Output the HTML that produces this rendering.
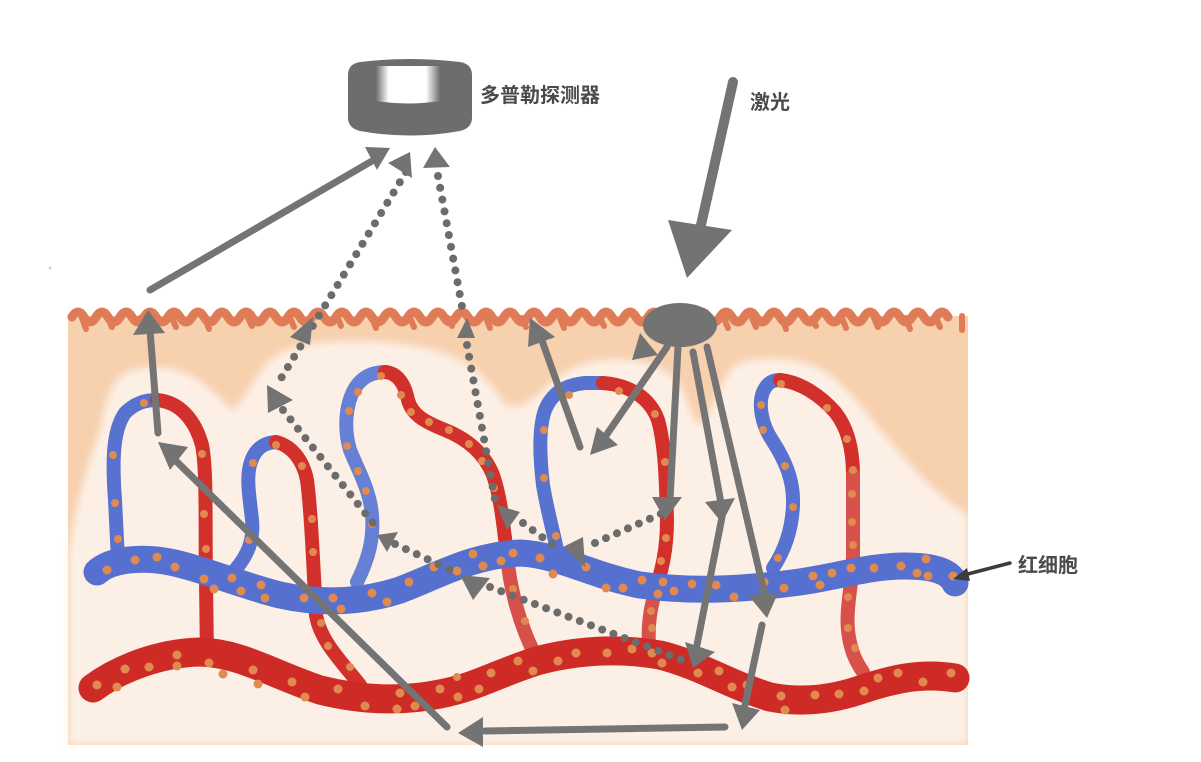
<!DOCTYPE html>
<html><head><meta charset="utf-8"><style>
html,body{margin:0;padding:0;background:#fff;}
svg{display:block;}
text{font-family:"Liberation Sans","Noto Sans CJK SC",sans-serif;fill:#4a4a4a;font-size:20px;font-weight:bold;}
</style></head><body>
<svg width="1201" height="762" viewBox="0 0 1201 762" xmlns="http://www.w3.org/2000/svg">
<defs>
<filter id="blur4" x="-5%" y="-5%" width="110%" height="110%"><feGaussianBlur stdDeviation="4"/></filter>
<linearGradient id="win" x1="0" y1="0" x2="1" y2="0">
<stop offset="0" stop-color="#6e6e6e"/><stop offset="0.2" stop-color="#ffffff"/><stop offset="0.78" stop-color="#ffffff"/><stop offset="1" stop-color="#6e6e6e"/>
</linearGradient>
</defs>

<!-- skin -->
<rect x="68" y="316" width="900" height="429" fill="#f7d0ae"/>
<path filter="url(#blur4)" fill="#fcf0e6" d="M68,745 L68,560 C72,520 85,470 100,430 C105,400 112,380 127,372 C140,365 170,365 190,375 C210,385 225,405 233,410 C240,405 250,385 267,363 C280,350 300,345 330,342 C370,340 410,342 440,352 C470,360 495,385 503,403 C515,410 525,405 540,392 C555,378 575,362 605,360 C640,358 665,365 680,385 C690,405 695,425 700,425 C710,420 720,380 735,365 C750,357 790,355 817,367 C840,378 860,405 883,433 C905,460 935,495 968,515 L968,745 Z"/>
<rect x="60" y="745" width="920" height="17" fill="#fff"/>
<rect x="968" y="300" width="30" height="460" fill="#fff"/>

<!-- wavy top -->
<path fill="none" stroke="#df7b56" stroke-width="9" stroke-linecap="round" d="M72,317 q6,-10 12,0 t12,0 t12,0 t12,0 t12,0 t12,0 t12,0 t12,0 t12,0 t12,0 t12,0 t12,0 t12,0 t12,0 t12,0 t12,0 t12,0 t12,0 t12,0 t12,0 t12,0 t12,0 t12,0 t12,0 t12,0 t12,0 t12,0 t12,0 t12,0 t12,0 t12,0 t12,0 t12,0 t12,0 t12,0 t12,0 t12,0 t12,0 t12,0 t12,0 t12,0 t12,0 t12,0 t12,0 t12,0 t12,0 t12,0 t12,0 t12,0 t12,0 t12,0 t12,0 t12,0 t12,0 t12,0 t12,0 t12,0 t12,0 t12,0 t12,0 t12,0 t12,0 t12,0 t12,0 t12,0 t12,0 t12,0 t12,0 t12,0 t12,0 t12,0 t12,0 t12,0"/>
<g stroke="#df7b56" stroke-width="6" stroke-linecap="round">
<line x1="82" y1="318" x2="86" y2="329"/><line x1="108" y1="318" x2="112" y2="327"/><line x1="140" y1="318" x2="146" y2="326"/><line x1="172" y1="318" x2="176" y2="327"/><line x1="205" y1="318" x2="209" y2="329"/><line x1="248" y1="318" x2="252" y2="326"/><line x1="290" y1="318" x2="294" y2="327"/><line x1="338" y1="318" x2="341" y2="326"/><line x1="372" y1="318" x2="376" y2="328"/><line x1="410" y1="318" x2="414" y2="327"/><line x1="448" y1="318" x2="452" y2="326"/><line x1="486" y1="318" x2="490" y2="328"/><line x1="522" y1="318" x2="526" y2="327"/><line x1="560" y1="318" x2="564" y2="328"/><line x1="600" y1="318" x2="604" y2="326"/><line x1="724" y1="318" x2="728" y2="328"/><line x1="752" y1="318" x2="756" y2="327"/><line x1="782" y1="318" x2="786" y2="329"/><line x1="812" y1="318" x2="816" y2="326"/><line x1="842" y1="318" x2="846" y2="328"/><line x1="874" y1="318" x2="878" y2="327"/><line x1="906" y1="318" x2="910" y2="329"/><line x1="936" y1="318" x2="940" y2="327"/><line x1="962" y1="316" x2="962" y2="330"/>
</g>

<!-- capillaries blue -->
<g fill="none" stroke="#5872cf" stroke-width="14" stroke-linecap="round">
<path d="M118,560 L115,500 C112,460 113,430 125,413 C135,403 145,400 157,400"/>
<path d="M235,570 C248,555 254,540 252,520 C250,500 246,480 250,465 C254,450 262,443 276,442"/>
<path stroke="#6580d4" d="M357,582 C368,560 374,540 372,515 C370,490 358,470 350,450 C344,430 345,405 355,388 C362,377 372,372 385,372"/>
<path d="M557,550 C553,530 547,510 543,485 C540,460 538,430 545,410 C552,393 565,385 585,383 L603,383"/>
<path d="M773,568 C785,550 792,530 793,505 C794,480 785,460 772,440 C762,425 758,405 763,392 C767,383 772,380 780,380"/>
</g>
<!-- capillaries red -->
<g fill="none" stroke="#d2312b" stroke-width="14" stroke-linecap="round">
<path d="M157,400 C180,402 195,420 202,445 C207,470 205,520 206,580 L207,660"/>
<path d="M276,442 C292,446 303,460 307,480 C311,510 313,560 316,615 C320,640 340,660 360,685"/>
<path d="M385,372 C398,373 405,385 408,400 C412,415 425,422 445,430 C470,440 485,455 493,475 C500,495 503,520 507,555"/>
<path stroke="#d8504a" d="M507,555 C510,590 520,625 535,655"/>
<path d="M603,383 C630,385 650,398 658,420 C665,445 666,480 667,520 C667,555 660,575 653,600"/>
<path stroke="#d8504a" d="M653,600 C648,620 648,640 650,655"/>
<path d="M780,380 C800,382 820,395 835,412 C848,428 853,450 853,475"/>
<path stroke="#d8504a" d="M853,475 L853,560 C851,590 846,610 848,630 C850,650 856,662 863,672"/>
</g>

<!-- main vessels -->
<path fill="none" stroke="#5670cf" stroke-width="27" stroke-linecap="round" d="M97,572 C110,560 140,556 170,562 C200,568 240,585 280,595 C320,604 360,603 400,590 C440,575 470,556 520,553 C560,555 590,575 640,585 C690,592 740,590 800,582 C840,576 870,566 905,566 C935,566 950,572 955,583"/>
<path fill="none" stroke="#cf2b26" stroke-width="29" stroke-linecap="round" d="M93,688 C120,668 160,653 200,652 C240,653 270,673 320,690 C360,700 400,702 440,694 C480,686 500,672 540,660 C580,650 620,648 660,655 C700,665 730,685 770,697 C800,703 830,700 860,690 C890,680 920,672 955,678"/>

<!-- dots -->
<g fill="#e08a50">
<circle cx="107" cy="570" r="4.5"/><circle cx="135" cy="560" r="4.5"/><circle cx="157" cy="557" r="4.5"/><circle cx="175" cy="567" r="4.5"/><circle cx="204" cy="579" r="4.5"/><circle cx="214" cy="589" r="4.5"/><circle cx="232" cy="578" r="4.5"/><circle cx="241" cy="591" r="4.5"/><circle cx="261" cy="585" r="4.5"/><circle cx="265" cy="598" r="4.5"/><circle cx="304" cy="598" r="4.5"/><circle cx="333" cy="598" r="4.5"/><circle cx="341" cy="609" r="4.5"/><circle cx="372" cy="593" r="4.5"/><circle cx="387" cy="602" r="4.5"/><circle cx="409" cy="582" r="4.5"/><circle cx="434" cy="567" r="4.5"/><circle cx="457" cy="571" r="4.5"/><circle cx="473" cy="554" r="4.5"/><circle cx="483" cy="566" r="4.5"/><circle cx="501" cy="561" r="4.5"/><circle cx="513" cy="553" r="4.5"/>
<circle cx="540" cy="558" r="4.5"/><circle cx="553" cy="574" r="4.5"/><circle cx="586" cy="567" r="4.5"/><circle cx="606" cy="588" r="4.5"/><circle cx="623" cy="588" r="4.5"/><circle cx="642" cy="580" r="4.5"/><circle cx="663" cy="582" r="4.5"/><circle cx="658" cy="594" r="4.5"/><circle cx="674" cy="591" r="4.5"/><circle cx="692" cy="584" r="4.5"/><circle cx="716" cy="585" r="4.5"/><circle cx="734" cy="597" r="4.5"/><circle cx="764" cy="582" r="4.5"/><circle cx="784" cy="588" r="4.5"/><circle cx="813" cy="576" r="4.5"/><circle cx="820" cy="585" r="4.5"/><circle cx="832" cy="573" r="4.5"/><circle cx="851" cy="568" r="4.5"/><circle cx="874" cy="568" r="4.5"/><circle cx="901" cy="566" r="4.5"/><circle cx="917" cy="573" r="4.5"/><circle cx="928" cy="576" r="4.5"/><circle cx="926" cy="559" r="4.5"/><circle cx="953" cy="576" r="4.5"/>
<circle cx="97" cy="685" r="4.5"/><circle cx="117" cy="687" r="4.5"/><circle cx="125" cy="669" r="4.5"/><circle cx="149" cy="667" r="4.5"/><circle cx="177" cy="655" r="4.5"/><circle cx="177" cy="666" r="4.5"/><circle cx="209" cy="663" r="4.5"/><circle cx="223" cy="674" r="4.5"/><circle cx="253" cy="670" r="4.5"/><circle cx="258" cy="684" r="4.5"/><circle cx="292" cy="682" r="4.5"/><circle cx="305" cy="697" r="4.5"/><circle cx="338" cy="689" r="4.5"/><circle cx="365" cy="706" r="4.5"/><circle cx="397" cy="709" r="4.5"/><circle cx="400" cy="693" r="4.5"/><circle cx="415" cy="706" r="4.5"/><circle cx="440" cy="689" r="4.5"/><circle cx="458" cy="697" r="4.5"/><circle cx="457" cy="677" r="4"/><circle cx="479" cy="689" r="4.5"/><circle cx="491" cy="673" r="4.5"/><circle cx="518" cy="661" r="4.5"/>
<circle cx="533" cy="671" r="4.5"/><circle cx="558" cy="661" r="4.5"/><circle cx="576" cy="653" r="4.5"/><circle cx="607" cy="653" r="4.5"/><circle cx="632" cy="649" r="4.5"/><circle cx="652" cy="653" r="4.5"/><circle cx="662" cy="663" r="4.5"/><circle cx="698" cy="673" r="4.5"/><circle cx="719" cy="671" r="4.5"/><circle cx="732" cy="687" r="4.5"/><circle cx="747" cy="685" r="4.5"/><circle cx="781" cy="696" r="4.5"/><circle cx="785" cy="710" r="4.5"/><circle cx="815" cy="695" r="4.5"/><circle cx="839" cy="694" r="4.5"/><circle cx="864" cy="691" r="4.5"/><circle cx="878" cy="678" r="4.5"/><circle cx="898" cy="673" r="4.5"/><circle cx="923" cy="682" r="4.5"/><circle cx="951" cy="673" r="4.5"/>
<circle cx="144" cy="403" r="4"/><circle cx="113" cy="455" r="4"/><circle cx="202" cy="454" r="4"/><circle cx="115" cy="503" r="4"/><circle cx="118" cy="539" r="4"/><circle cx="204" cy="514" r="4"/><circle cx="206" cy="549" r="4"/>
<circle cx="253" cy="463" r="4"/><circle cx="276" cy="445" r="4"/><circle cx="302" cy="466" r="4"/><circle cx="249" cy="540" r="4"/><circle cx="312" cy="519" r="4"/><circle cx="313" cy="552" r="4"/><circle cx="321" cy="623" r="4"/><circle cx="328" cy="646" r="4"/><circle cx="350" cy="667" r="4"/>
<circle cx="381" cy="376" r="4"/><circle cx="358" cy="392" r="4"/><circle cx="349" cy="411" r="4"/><circle cx="347" cy="446" r="4"/><circle cx="358" cy="471" r="4"/><circle cx="366" cy="491" r="4"/><circle cx="372" cy="524" r="4"/><circle cx="401" cy="395" r="4"/><circle cx="411" cy="412" r="4"/><circle cx="429" cy="422" r="4"/><circle cx="449" cy="430" r="4"/><circle cx="469" cy="444" r="4"/><circle cx="482" cy="461" r="4"/><circle cx="494" cy="488" r="4"/><circle cx="513" cy="589" r="4"/><circle cx="525" cy="621" r="4"/>
<circle cx="569" cy="395" r="4"/><circle cx="544" cy="430" r="4"/><circle cx="544" cy="478" r="4"/><circle cx="556" cy="536" r="4"/><circle cx="619" cy="391" r="4"/><circle cx="655" cy="414" r="4"/><circle cx="665" cy="462" r="4"/><circle cx="666" cy="538" r="4"/><circle cx="661" cy="561" r="4"/><circle cx="651" cy="611" r="4"/><circle cx="652" cy="628" r="4"/>
<circle cx="761" cy="405" r="4"/><circle cx="763" cy="430" r="4"/><circle cx="785" cy="466" r="4"/><circle cx="793" cy="507" r="4"/><circle cx="778" cy="558" r="4"/><circle cx="781" cy="384" r="4"/><circle cx="827" cy="408" r="4"/><circle cx="847" cy="439" r="4"/><circle cx="853" cy="470" r="4"/><circle cx="852" cy="494" r="4"/><circle cx="852" cy="522" r="4"/><circle cx="853" cy="545" r="4"/><circle cx="848" cy="597" r="4"/><circle cx="848" cy="628" r="4"/><circle cx="855" cy="648" r="4"/>
</g>

<!-- dotted paths -->
<g fill="none" stroke="#6c6c6c" stroke-width="8" stroke-linecap="round" stroke-dasharray="0 12">
<path d="M406,172 L277,385"/>
<path d="M283,410 L377,528"/>
<path d="M395,544 L455,572"/>
<path d="M490,587 L685,661"/>
<path d="M438,176 L463,312"/>
<path d="M467,345 L495,500"/>
<path d="M523,523 L553,545"/>
<path d="M595,543 L665,512"/>
</g>

<!-- gray solid arrows -->
<g stroke="#747474" stroke-width="7" stroke-linecap="round" fill="none">
<line x1="150" y1="290" x2="372" y2="161"/>
<line x1="733" y1="82" x2="701" y2="225" stroke-width="10"/>
<line x1="667" y1="347" x2="605" y2="437"/>
<line x1="580" y1="447" x2="540" y2="335"/>
<line x1="678" y1="347" x2="670" y2="500"/>
<line x1="693" y1="352" x2="721" y2="503"/>
<line x1="722" y1="517" x2="697" y2="645"/>
<line x1="707" y1="347" x2="765" y2="596"/>
<line x1="762" y1="625" x2="745" y2="705"/>
<line x1="725" y1="727" x2="485" y2="731"/>
<line x1="447" y1="727" x2="175" y2="460"/>
<line x1="158" y1="433" x2="150" y2="330"/>
</g>
<g fill="#737373">
<ellipse cx="680" cy="325" rx="37" ry="22"/>
<polygon points="365,147 390,148 377,170"/>
<polygon points="668,220 732,230 687,278"/>
<polygon points="597,427 618,445 590,455"/>
<polygon points="632,360 640,333 658,355"/>
<polygon points="530,318 555,337 528,347"/>
<polygon points="652,497 682,497 665,520"/>
<polygon points="705,502 735,498 722,523"/>
<polygon points="685,642 715,652 693,668"/>
<polygon points="748,595 778,593 767,618"/>
<polygon points="732,703 760,710 742,730"/>
<polygon points="458,733 483,717 483,747"/>
<polygon points="158,442 188,447 170,470"/>
<polygon points="133,335 148,310 165,333"/>
<polygon points="388,163 410,152 412,178"/>
<polygon points="290,337 313,317 310,345"/>
<polygon points="267,385 293,400 268,413"/>
<polygon points="377,535 398,532 387,552"/>
<polygon points="460,575 490,578 473,600"/>
<polygon points="423,168 435,147 450,167"/>
<polygon points="457,338 467,318 475,338"/>
<polygon points="497,505 520,512 507,530"/>
<polygon points="563,547 583,537 585,567"/>
</g>

<!-- detector -->
<path fill="#6d6d6d" d="M360,62 Q410,56 460,62 Q472,64 472,75 L472,118 Q472,128 460,131 Q410,140 360,131 Q348,128 348,118 L348,75 Q348,64 360,62 Z"/>
<path fill="url(#win)" d="M376,66 L440,66 L440,101 Q408,106 376,101 Z"/>

<!-- labels -->
<text x="480" y="102">多普勒探测器</text>
<text x="750" y="109">激光</text>
<text x="1018" y="572">红细胞</text>
<line x1="1010" y1="563" x2="964" y2="575" stroke="#3c3c3c" stroke-width="3.5" stroke-linecap="round"/>
<polygon points="953,579 967,568 970,581" fill="#3c3c3c"/>
<circle cx="50" cy="268" r="1.5" fill="#f0c8a8"/>
</svg>
</body></html>
